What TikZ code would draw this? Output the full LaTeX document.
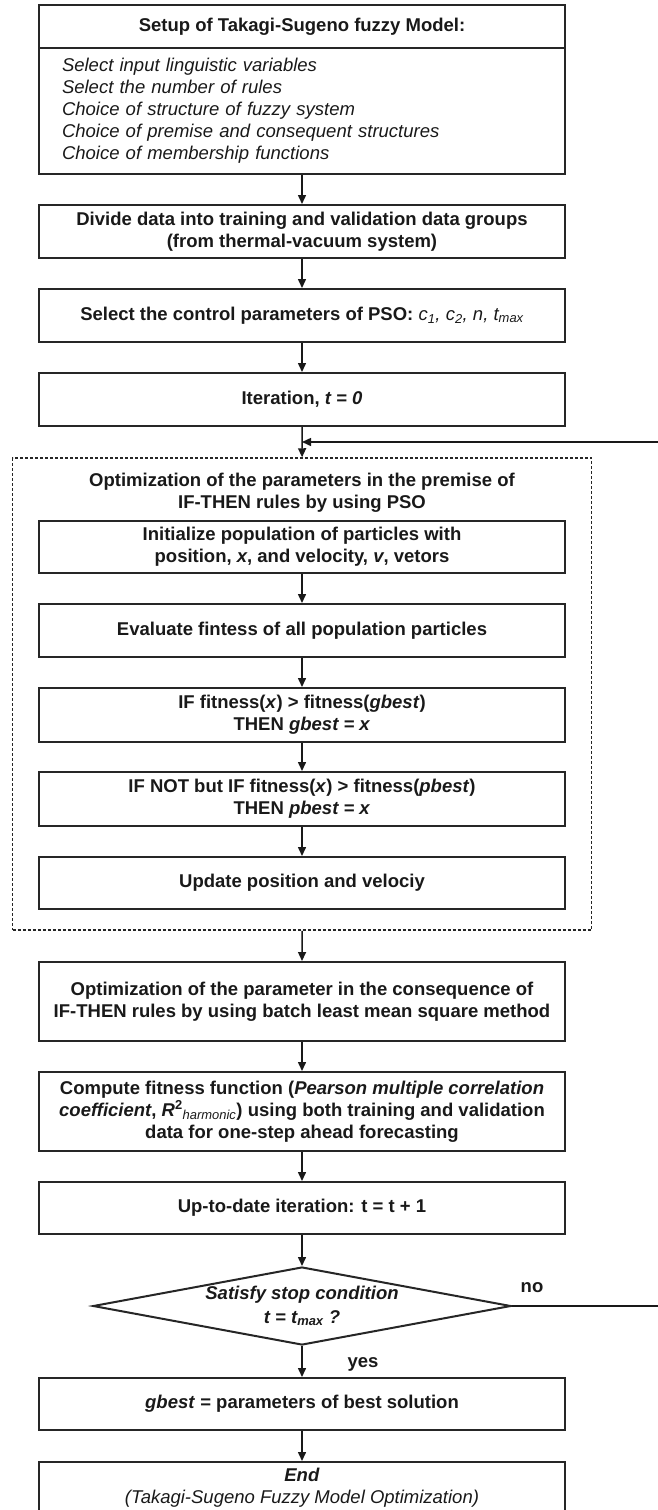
\documentclass[tikz,border=0pt]{standalone}
\usepackage{fontspec}
\setmainfont{Liberation Sans}
\usetikzlibrary{arrows.meta,shapes.geometric}
\begin{document}
\begin{tikzpicture}[x=1pt,y=-1pt,
  every node/.append style={font=\fontsize{18.5}{22}\selectfont\bfseries, text=black!90},
  box/.style={draw=black!85, line width=2pt, minimum width=526pt, inner sep=0pt, align=center},
  dashbox/.style={draw=black!85, line width=1.5pt, dash pattern=on 3pt off 2pt, minimum width=579pt, minimum height=472pt, inner sep=0pt},
  decision/.style={diamond, draw=black!85, line width=2pt, minimum width=418pt, minimum height=78pt, inner sep=0pt},
  plain/.style={inner sep=0pt, align=center},
  arr/.style={draw=black!90, line width=1.5pt, -{Triangle[length=9pt,width=8pt]}}]
\useasboundingbox (0,0) rectangle (657,1510);

% setup box
\node[box, minimum height=43pt] (setuphead) at (302,26.5) {Setup of Takagi-Sugeno fuzzy Model:};
\node[box, minimum height=126pt, text width=480pt, inner xsep=23pt, align=left,
      font=\fontsize{18.5}{22}\selectfont\itshape] (setupbody) at (302,111)
  {Select input linguistic variables\\Select the number of rules\\Choice of structure of fuzzy system\\Choice of premise and consequent structures\\Choice of membership functions};

\node[box, minimum height=53pt] (divide) at (302,231.5)
  {Divide data into training and validation data groups\\(from thermal-vacuum system)};
\node[box, minimum height=53pt] (select) at (302,315.5)
  {Select the control parameters of PSO: {\mdseries\itshape c\textsubscript{1}, c\textsubscript{2}, n, t\textsubscript{max}}};
\node[box, minimum height=53pt] (iter) at (302,399.5) {Iteration, \textit{t = 0}};

% PSO group
\node[dashbox] (pso) at (302.1,694) {};
\node[plain] (psotitle) at (302,493)
  {Optimization of the parameters in the premise of\\IF-THEN rules by using PSO};
\node[box, minimum height=52pt] (init) at (302,547)
  {Initialize population of particles with\\position, \textit{x}, and velocity, \textit{v}, vetors};
\node[box, minimum height=53pt] (eval) at (302,630.5) {Evaluate fintess of all population particles};
\node[box, minimum height=54pt] (ifg) at (302,715)
  {IF fitness(\textit{x}) > fitness(\textit{gbest})\\THEN \textit{gbest = x}};
\node[box, minimum height=54pt] (ifp) at (302,799)
  {IF NOT but IF fitness(\textit{x}) > fitness(\textit{pbest})\\THEN \textit{pbest = x}};
\node[box, minimum height=52pt] (update) at (302,883) {Update position and velociy};

\node[box, minimum height=79pt] (optim) at (302,1001.5)
  {Optimization of the parameter in the consequence of\\IF-THEN rules by using batch least mean square method};
\node[box, minimum height=79pt] (compute) at (302,1111.5)
  {Compute fitness function (\textit{Pearson multiple correlation}\\\textit{coefficient}, \textit{R}\textsuperscript{2}\textsubscript{\mdseries\itshape harmonic}) using both training and validation\\data for one-step ahead forecasting};
\node[box, minimum height=52pt] (upd) at (302,1208) {Up-to-date iteration: t = t + 1};

\node[decision] (cond) at (302,1306) {};
\node[plain, font=\fontsize{18.5}{24}\selectfont\bfseries\itshape] (condtext) at (302,1306)
  {Satisfy stop condition\\t = t\textsubscript{max} ?};
\node[plain] (nolabel) at (532,1288) {no};
\node[plain] (yeslabel) at (363,1364) {yes};

\node[box, minimum height=52pt] (gbest) at (302,1404) {\textit{gbest} = parameters of best solution};
\node[box, minimum height=52pt] (endbox) at (302,1488)
  {\textit{End}\\{\mdseries\itshape (Takagi-Sugeno Fuzzy Model Optimization)}};

% connectors
\coordinate (rb) at (660,1306);
\coordinate (rt) at (660,442);
\coordinate (merge) at (302,442);

\draw[arr] (setupbody.south) -- (divide.north);
\draw[arr] (divide.south) -- (select.north);
\draw[arr] (select.south) -- (iter.north);
\draw[arr] (iter.south) -- (pso.north);
\draw[arr] (init.south) -- (eval.north);
\draw[arr] (eval.south) -- (ifg.north);
\draw[arr] (ifg.south) -- (ifp.north);
\draw[arr] (ifp.south) -- (update.north);
\draw[arr] (pso.south) -- (optim.north);
\draw[arr] (optim.south) -- (compute.north);
\draw[arr] (compute.south) -- (upd.north);
\draw[arr] (upd.south) -- (cond.north);
\draw[arr] (cond.south) -- (gbest.north);
\draw[arr] (gbest.south) -- (endbox.north);
\draw[arr] (cond.east) -- (rb) -- (rt) -- (merge);
\end{tikzpicture}
\end{document}
